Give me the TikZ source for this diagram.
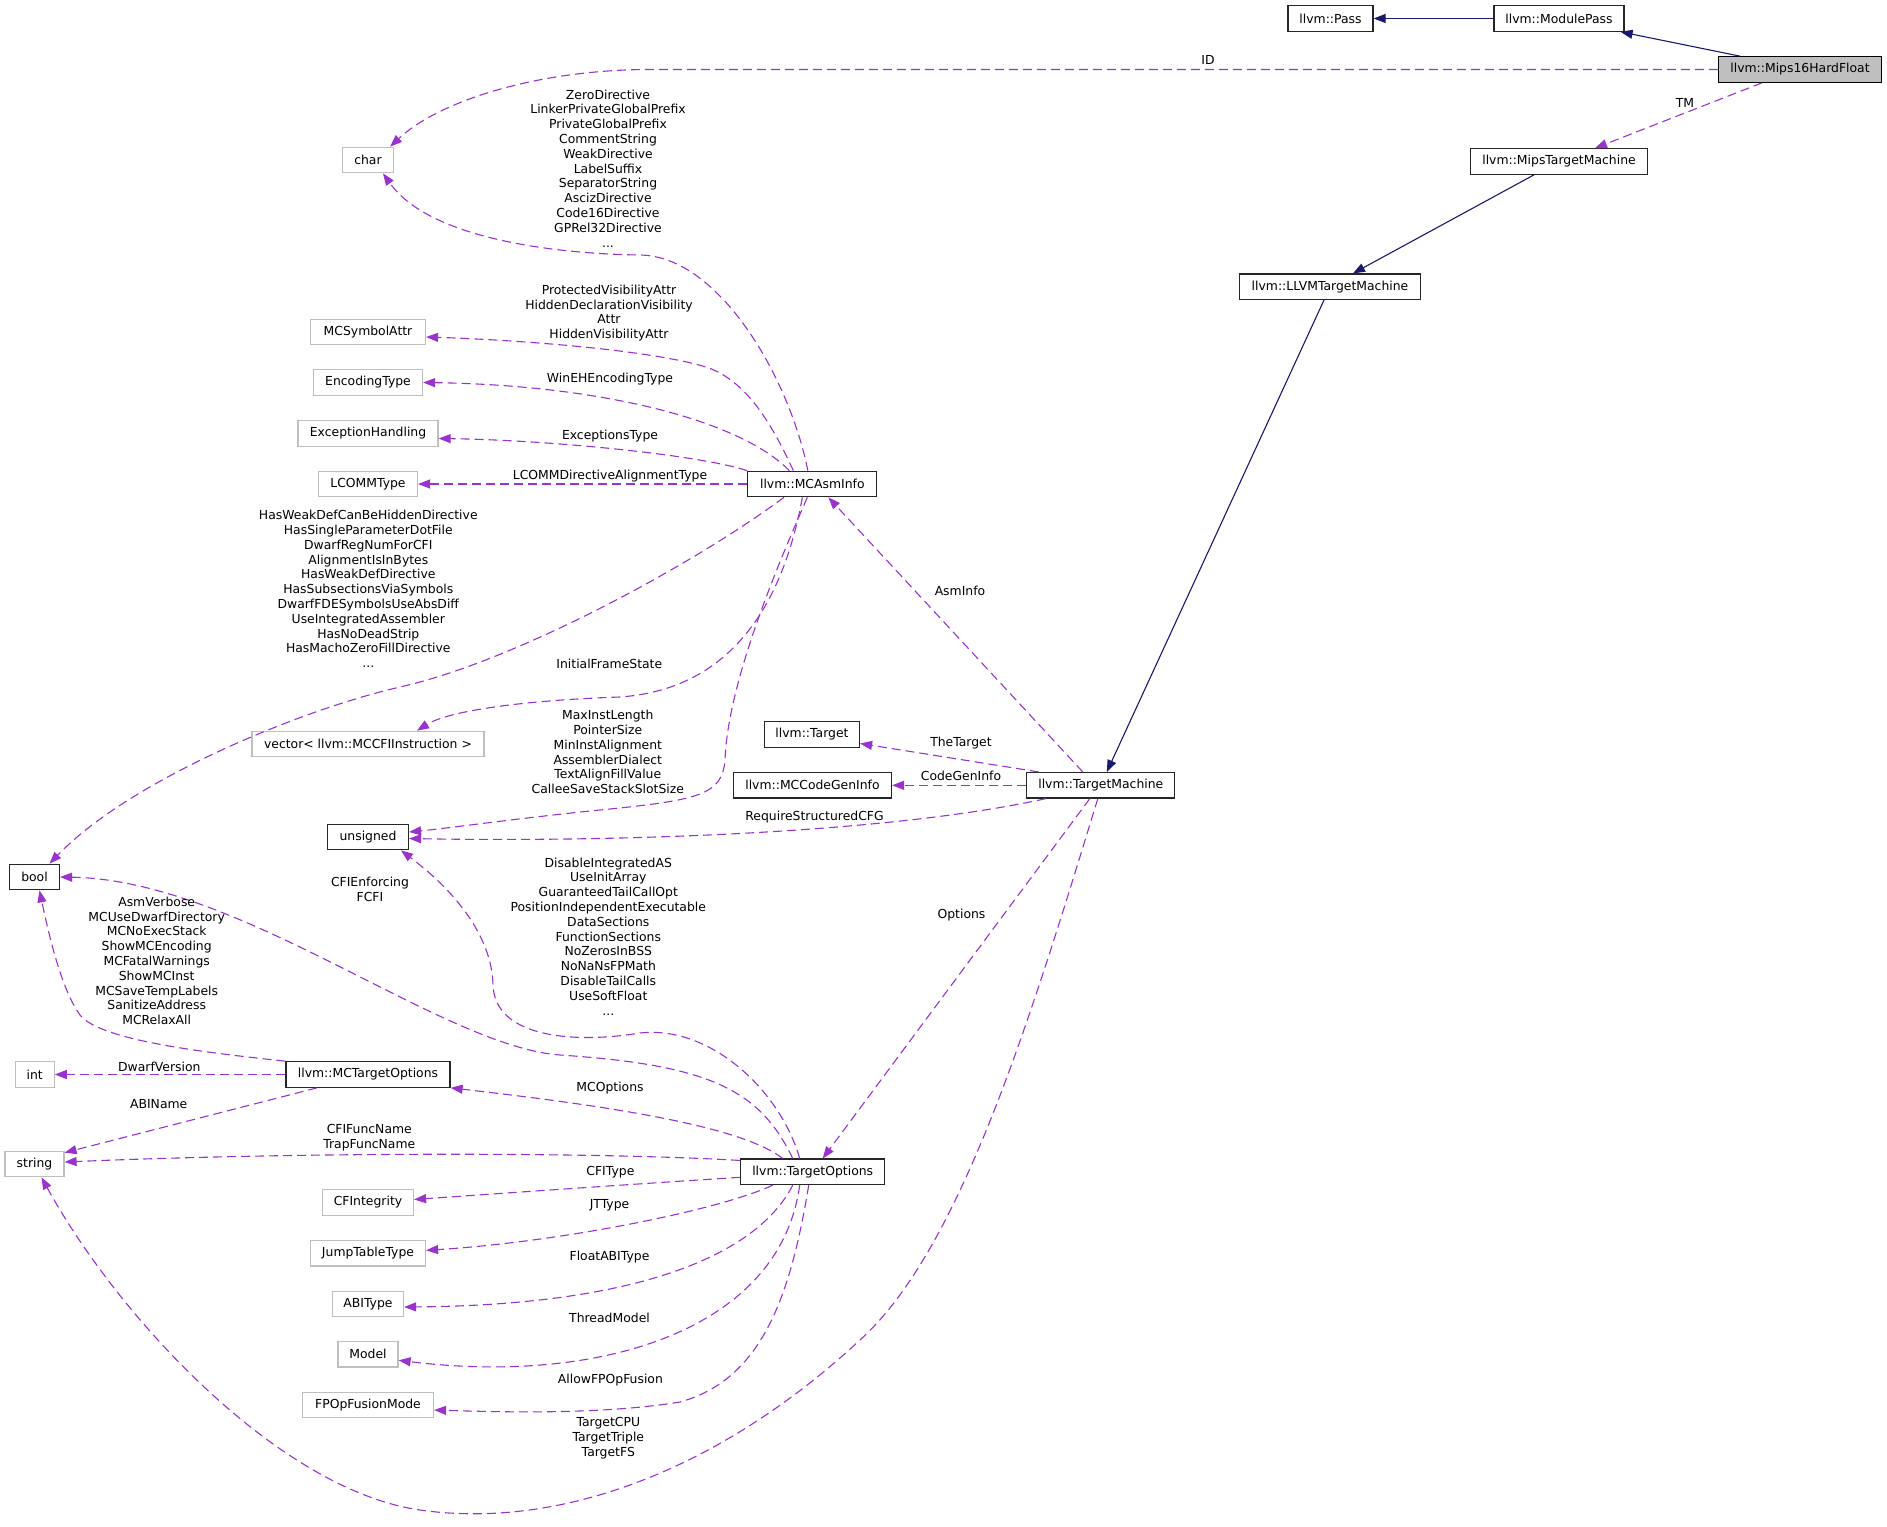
\documentclass[tikz,border=0pt]{standalone}
\usepackage{fontspec}
\setmainfont{DejaVu Sans}
\usepackage{tikz}
\usepackage{xcolor}
\usetikzlibrary{arrows.meta, calc}
\definecolor{mPurple}{HTML}{9A32CD}
\definecolor{mNavy}{HTML}{191970}
\definecolor{mGray}{HTML}{BFBFBF}

\begin{document}
\begin{tikzpicture}[x=1pt, y=-1pt,
  every node/.style={font=\fontsize{12.4}{14.8}\selectfont},
  cls/.style={draw=black!85, line width=1.2pt, minimum height=25.5pt, inner sep=0pt},
  ext/.style={cls, draw=mGray},
  lbl/.style={align=center, inner sep=0pt},
  inherit/.style={draw=mNavy, line width=1.1pt, -{Triangle[length=12pt, width=9pt]}},
  member/.style={draw=mPurple, line width=1.1pt, dash pattern=on 9pt off 5pt,
                 -{Triangle[length=12pt, width=9pt]}},
]
  \useasboundingbox (0,0) rectangle (1887,1526);

  % classes
  \node[cls] (pass) at (1330.5,18.5) [minimum width=85pt] {llvm::Pass};
  \node[cls] (modpass) at (1559,18.5) [minimum width=130pt] {llvm::ModulePass};
  \node[cls, fill=mGray, draw=black] (mips16) at (1800,69.5) [minimum width=163pt] {llvm::Mips16HardFloat};
  \node[cls] (mipstm) at (1559,161.5) [minimum width=177pt] {llvm::MipsTargetMachine};
  \node[cls] (llvmtm) at (1330,286.7) [minimum width=181pt] {llvm::LLVMTargetMachine};
  \node[cls] (tm) at (1100.8,785.3) [minimum width=148pt] {llvm::TargetMachine};
  \node[cls] (target) at (812,734.5) [minimum width=95pt] {llvm::Target};
  \node[cls] (mccgi) at (812.5,785.3) [minimum width=158pt] {llvm::MCCodeGenInfo};
  \node[cls] (mcasm) at (812.35,484) [minimum width=129pt] {llvm::MCAsmInfo};
  \node[cls] (topt) at (812.7,1171.8) [minimum width=144pt] {llvm::TargetOptions};
  \node[cls] (mcto) at (368,1074.5) [minimum width=164pt] {llvm::MCTargetOptions};
  \node[cls] (unsgn) at (368,837) [minimum width=81pt] {unsigned};
  \node[cls] (bool) at (34.5,877) [minimum width=50pt] {bool};

  % plain types
  \node[ext] (chr) at (368,160) [minimum width=51pt] {char};
  \node[ext] (symattr) at (368,332) [minimum width=115pt] {MCSymbolAttr};
  \node[ext] (enctype) at (368,382.5) [minimum width=109pt] {EncodingType};
  \node[ext] (exch) at (368,433.5) [minimum width=140pt] {ExceptionHandling};
  \node[ext] (lcomm) at (368,484) [minimum width=99pt] {LCOMMType};
  \node[ext] (vec) at (368,744) [minimum width=232pt] {vector< llvm::MCCFIInstruction >};
  \node[ext] (int) at (34.7,1074.5) [minimum width=39pt] {int};
  \node[ext] (str) at (34.5,1164) [minimum width=59pt] {string};
  \node[ext] (cfint) at (368,1202.5) [minimum width=91pt] {CFIntegrity};
  \node[ext] (jtt) at (368,1253.3) [minimum width=115pt] {JumpTableType};
  \node[ext] (abi) at (368,1304) [minimum width=71pt] {ABIType};
  \node[ext] (model) at (368,1354.3) [minimum width=60pt] {Model};
  \node[ext] (fpo) at (368,1405) [minimum width=131pt] {FPOpFusionMode};

  % inheritance
  \draw[inherit] (modpass.west) -- (pass.east);
  \draw[inherit] ([xshift=-60pt]mips16.north) -- ([xshift=-4pt]modpass.south east);
  \draw[inherit] ([xshift=-25pt]mipstm.south) -- ([xshift=23pt]llvmtm.north);
  \draw[inherit] ([xshift=-6pt]llvmtm.south) -- ([xshift=6pt]tm.north);

  % members
  \draw[member] (mips16.west) -- (650,69.5) .. controls (540,69.5) and (440,100) .. ([xshift=-4pt]chr.north east);
  \draw[member] ([xshift=-38pt]mips16.south) -- ([xshift=36pt]mipstm.north);

  \draw[member] ([xshift=-4.5pt]mcasm.north) .. controls (790,380) and (720,256) .. (640,255)
    .. controls (560,254) and (430,240) .. ([xshift=15pt]chr.south);
  \draw[member] ([xshift=-19pt]mcasm.north) .. controls (770,420) and (745,380) .. (706,367)
    .. controls (650,350) and (520,340) .. ([yshift=-5pt]symattr.east);
  \draw[member] ([xshift=-23pt]mcasm.north) .. controls (740,420) and (600,385) .. (enctype.east);
  \draw[member] (mcasm.north west) .. controls (700,455) and (550,440) .. ([yshift=-5pt]exch.east);
  \draw[member] (mcasm.west) -- (lcomm.east);
  \draw[member] ([xshift=36.7pt]mcasm.south west) .. controls (700,560) and (520,660) .. (400,687)
    .. controls (300,710) and (130,780) .. ([xshift=15pt]bool.north);
  \draw[member] ([xshift=-10pt]mcasm.south) .. controls (780,620) and (720,690) .. (620,697)
    .. controls (530,700) and (450,710) .. ([xshift=49pt]vec.north);
  \draw[member] ([xshift=-5pt]mcasm.south) .. controls (780,560) and (728,680) .. (725,760)
    .. controls (722,795) and (700,800) .. (600,810)
    .. controls (520,818) and (450,828) .. ([yshift=5pt]unsgn.east);

  \draw[member] ([xshift=-18pt]tm.north) -- ([xshift=16pt]mcasm.south);
  \draw[member] ([xshift=-62pt]tm.north) -- ([yshift=-9pt]target.east);
  \draw[member] (tm.west) -- (mccgi.east);
  \draw[member] ([xshift=-55pt]tm.south) .. controls (880,835) and (600,842) .. ([yshift=-1.5pt]unsgn.east);
  \draw[member] ([xshift=-11pt]tm.south) -- ([xshift=10pt]topt.north);
  \draw[member] ([xshift=-3pt]tm.south) .. controls (1030,1020) and (960,1250) .. (860,1340)
    .. controls (720,1470) and (560,1530) .. (420,1510)
    .. controls (280,1490) and (120,1320) .. ([xshift=7pt]str.south);

  \draw[member] ([xshift=-30pt]topt.north) .. controls (740,1125) and (600,1105) .. (mcto.south east);
  \draw[member] ([xshift=-20pt]topt.north) .. controls (760,1090) and (710,1065) .. (560,1055)
    .. controls (440,1046) and (240,880) .. (bool.east);
  \draw[member] ([xshift=-13pt]topt.north) .. controls (780,1090) and (710,1025) .. (640,1033)
    .. controls (580,1043) and (495,1040) .. (493,985)
    .. controls (492,940) and (460,895) .. ([xshift=33pt]unsgn.south);
  \draw[member] ([yshift=-2pt]topt.north west) .. controls (600,1152) and (300,1152) .. ([yshift=2pt]str.east);
  \draw[member] ([yshift=-5.5pt]topt.west) .. controls (650,1183) and (520,1192) .. ([yshift=3pt]cfint.east);
  \draw[member] ([xshift=-40pt]topt.south) .. controls (720,1210) and (560,1242) .. ([yshift=3pt]jtt.east);
  \draw[member] ([xshift=-20pt]topt.south) .. controls (760,1250) and (650,1305) .. ([yshift=-3pt]abi.east);
  \draw[member] ([xshift=-13pt]topt.south) .. controls (780,1330) and (600,1385) .. ([yshift=-6pt]model.east);
  \draw[member] ([xshift=-4pt]topt.south) .. controls (790,1300) and (760,1380) .. (680,1402)
    .. controls (600,1415) and (500,1412) .. ([yshift=-5pt]fpo.east);

  \draw[member] (mcto.north west) .. controls (200,1052) and (100,1040) .. (80,1015)
    .. controls (62,990) and (50,940) .. ([xshift=5pt]bool.south);
  \draw[member] (mcto.west) -- (int.east);
  \draw[member] ([xshift=-51pt]mcto.south) -- ([yshift=-2pt]str.north east);

  % edge labels
  \node[lbl] (l-id) at (1208,60) {ID};
  \node[lbl] (l-tm) at (1685,103) {TM};
  \node[lbl] (l-asminfo) at (960,591) {AsmInfo};
  \node[lbl] (l-target) at (961,743) {TheTarget};
  \node[lbl] (l-cgi) at (961,776) {CodeGenInfo};
  \node[lbl] (l-cfg) at (814.5,816.7) {RequireStructuredCFG};
  \node[lbl] (l-options) at (961.5,914.6) {Options};
  \node[lbl] (l-chr) at (608,168.3) {ZeroDirective\\LinkerPrivateGlobalPrefix\\PrivateGlobalPrefix\\CommentString\\WeakDirective\\LabelSuffix\\SeparatorString\\AscizDirective\\Code16Directive\\GPRel32Directive\\...};
  \node[lbl] (l-sym) at (609,313) {ProtectedVisibilityAttr\\HiddenDeclarationVisibility\\Attr\\HiddenVisibilityAttr};
  \node[lbl] (l-enc) at (610,379.3) {WinEHEncodingType};
  \node[lbl] (l-exc) at (610,435.7) {ExceptionsType};
  \node[lbl] (l-lcomm) at (610,475.7) {LCOMMDirectiveAlignmentType};
  \node[lbl] (l-asmbool) at (368.3,589) {HasWeakDefCanBeHiddenDirective\\HasSingleParameterDotFile\\DwarfRegNumForCFI\\AlignmentIsInBytes\\HasWeakDefDirective\\HasSubsectionsViaSymbols\\DwarfFDESymbolsUseAbsDiff\\UseIntegratedAssembler\\HasNoDeadStrip\\HasMachoZeroFillDirective\\...};
  \node[lbl] (l-ifs) at (609.3,664.3) {InitialFrameState};
  \node[lbl] (l-asmuns) at (607.8,752) {MaxInstLength\\PointerSize\\MinInstAlignment\\AssemblerDialect\\TextAlignFillValue\\CalleeSaveStackSlotSize};
  \node[lbl] (l-optuns) at (608.3,936.3) {DisableIntegratedAS\\UseInitArray\\GuaranteedTailCallOpt\\PositionIndependentExecutable\\DataSections\\FunctionSections\\NoZerosInBSS\\NoNaNsFPMath\\DisableTailCalls\\UseSoftFloat\\...};
  \node[lbl] (l-optbool) at (370,889.7) {CFIEnforcing\\FCFI};
  \node[lbl] (l-mcbool) at (156.7,960.8) {AsmVerbose\\MCUseDwarfDirectory\\MCNoExecStack\\ShowMCEncoding\\MCFatalWarnings\\ShowMCInst\\MCSaveTempLabels\\SanitizeAddress\\MCRelaxAll};
  \node[lbl] (l-dwarf) at (159.3,1066.7) {DwarfVersion};
  \node[lbl] (l-abiname) at (158.7,1104.3) {ABIName};
  \node[lbl] (l-mcopt) at (610,1088.3) {MCOptions};
  \node[lbl] (l-funcname) at (369.3,1138) {CFIFuncName\\TrapFuncName};
  \node[lbl] (l-cfitype) at (610.4,1171.7) {CFIType};
  \node[lbl] (l-jt) at (609.5,1205) {JTType};
  \node[lbl] (l-fabi) at (609.5,1256.7) {FloatABIType};
  \node[lbl] (l-thread) at (609.5,1318.3) {ThreadModel};
  \node[lbl] (l-fusion) at (610.4,1380) {AllowFPOpFusion};
  \node[lbl] (l-tcpu) at (608.3,1438) {TargetCPU\\TargetTriple\\TargetFS};
\end{tikzpicture}
\end{document}
